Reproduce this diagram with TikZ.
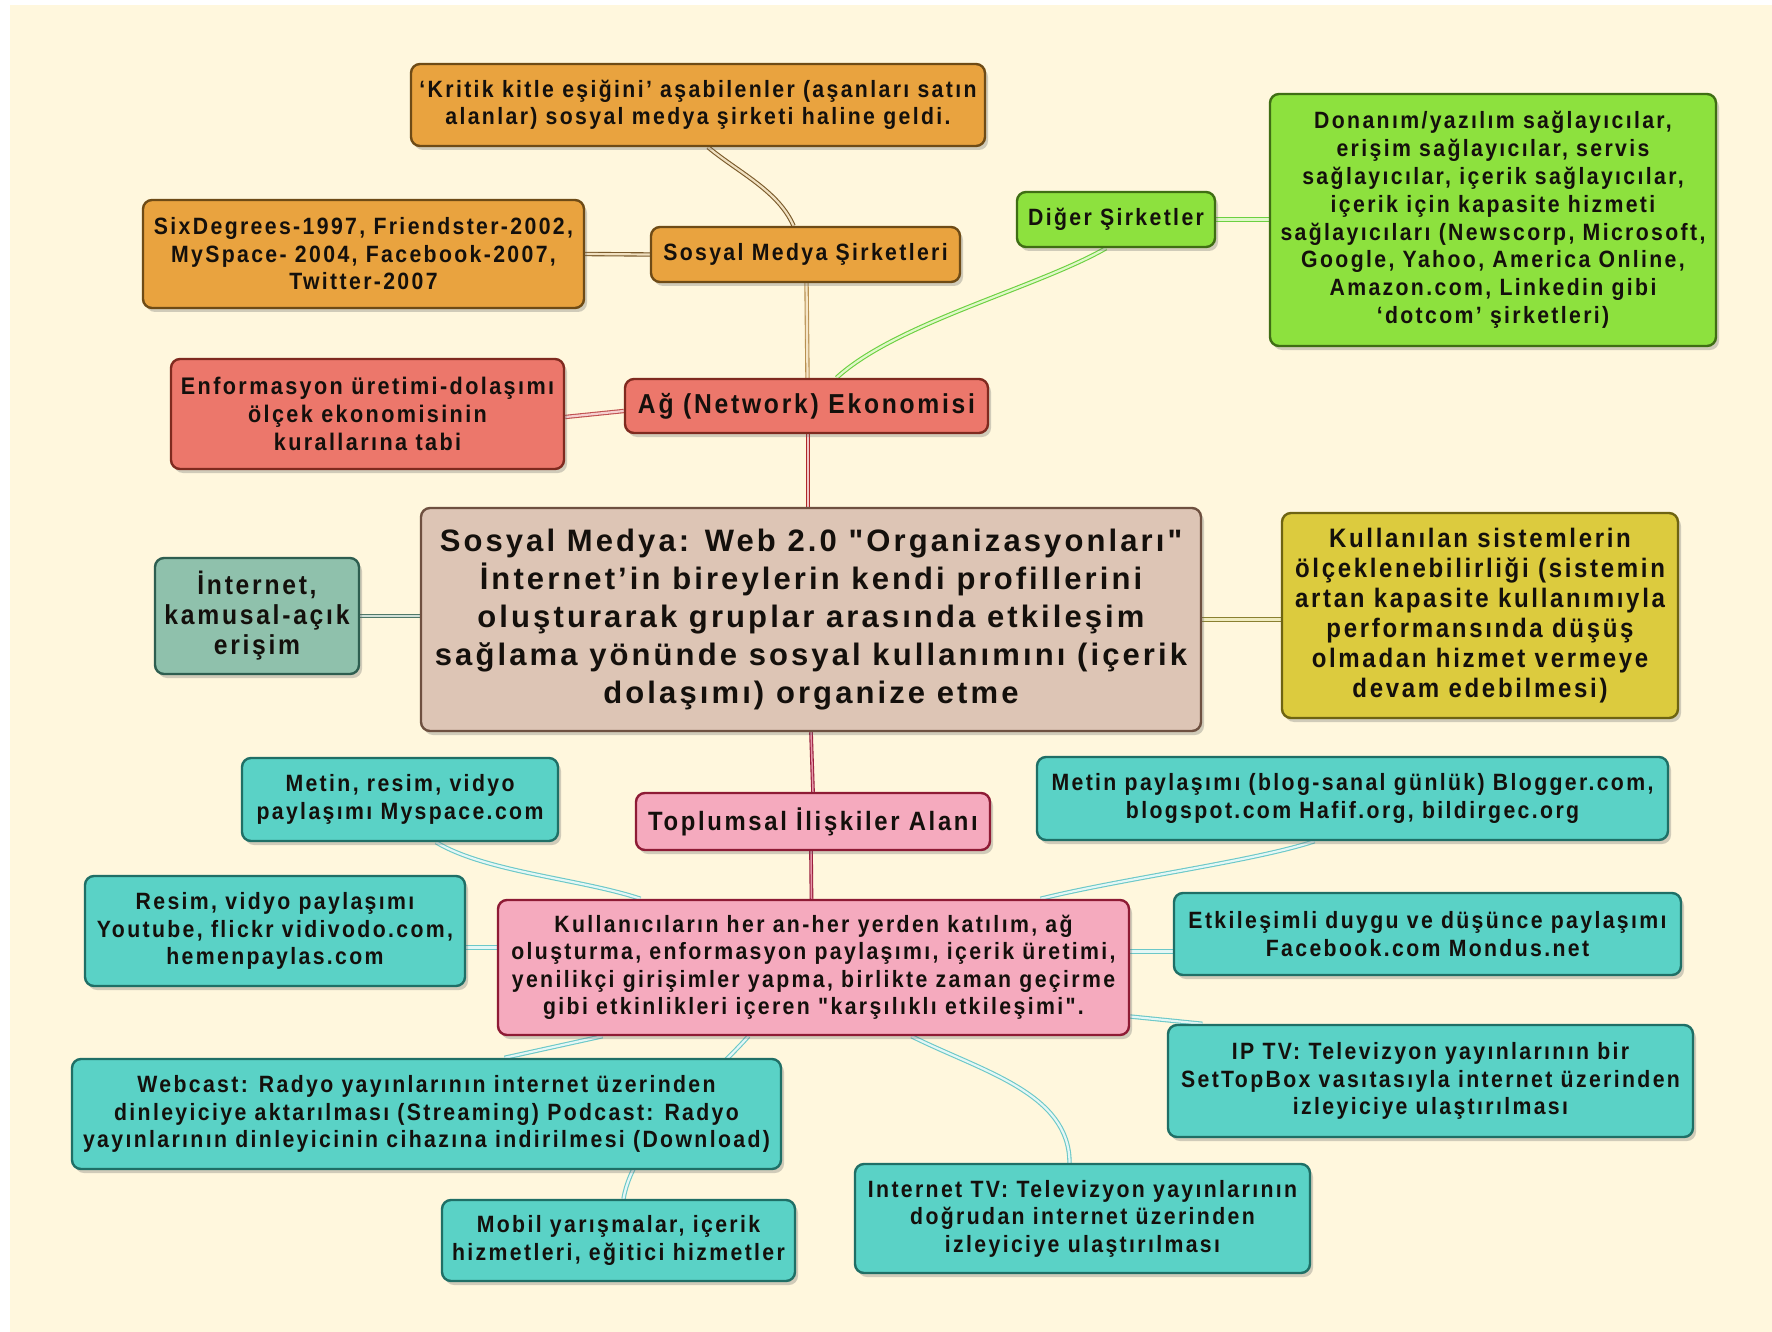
\documentclass[tikz,border=0pt]{standalone}
\usepackage{fontspec}
\newfontfamily\mf{Liberation Sans}[FakeStretch=0.9, LetterSpace=10]
\newfontfamily\mfw{Liberation Sans}[LetterSpace=10]
\usetikzlibrary{shadows,calc}
\definecolor{bg}{RGB}{255,247,221}
\definecolor{txt}{RGB}{20,16,12}
\definecolor{orF}{RGB}{233,163,63}\definecolor{orD}{RGB}{110,75,22}
\definecolor{rdF}{RGB}{236,119,107}\definecolor{rdD}{RGB}{127,42,31}
\definecolor{grF}{RGB}{141,225,62}\definecolor{grD}{RGB}{63,110,20}
\definecolor{ceF}{RGB}{221,197,181}\definecolor{ceD}{RGB}{110,80,64}
\definecolor{inF}{RGB}{143,193,172}\definecolor{inD}{RGB}{46,94,80}
\definecolor{yeF}{RGB}{220,203,62}\definecolor{yeD}{RGB}{110,100,18}
\definecolor{pkF}{RGB}{245,170,190}\definecolor{pkD}{RGB}{142,27,53}
\definecolor{tlF}{RGB}{90,210,198}\definecolor{tlD}{RGB}{31,111,102}
\pgfdeclarelayer{back}\pgfdeclarelayer{conns}
\pgfsetlayers{back,conns,main}
\tikzset{
  box/.style={rectangle, rounded corners=9pt, line width=2.4pt, align=center, inner sep=0pt,
    font=\mf\bfseries\fontsize{23.6}{27.5}\selectfont, text=txt,
    drop shadow={shadow xshift=3pt, shadow yshift=-4pt, opacity=0.3, fill=black!60}},
  orbox/.style={box, fill=orF, draw=orD},
  rdbox/.style={box, fill=rdF, draw=rdD},
  grbox/.style={box, fill=grF, draw=grD},
  cebox/.style={box, fill=ceF, draw=ceD, font=\mfw\bfseries\fontsize{31}{38}\selectfont},
  inbox/.style={box, fill=inF, draw=inD},
  yebox/.style={box, fill=yeF, draw=yeD},
  pkbox/.style={box, fill=pkF, draw=pkD},
  tlbox/.style={box, fill=tlF, draw=tlD},
  conn/.style={line width=1.1pt, double distance=2.2pt},
  cbrown/.style={conn, draw={rgb,255:red,122;green,90;blue,42}, double={rgb,255:red,240;green,224;blue,192}},
  ctan/.style={conn, draw={rgb,255:red,184;green,144;blue,80}, double={rgb,255:red,245;green,230;blue,200}},
  cred/.style={conn, draw={rgb,255:red,192;green,80;blue,80}, double={rgb,255:red,245;green,208;blue,208}},
  cred2/.style={conn, draw={rgb,255:red,176;green,40;blue,40}, double={rgb,255:red,240;green,200;blue,200}, double distance=1.5pt},
  cgreen/.style={conn, draw={rgb,255:red,108;green,208;blue,64}, double={rgb,255:red,224;green,248;blue,200}},
  cint/.style={conn, draw={rgb,255:red,80;green,120;blue,104}, double={rgb,255:red,208;green,224;blue,216}},
  cyel/.style={conn, draw={rgb,255:red,138;green,128;blue,48}, double={rgb,255:red,240;green,236;blue,192}},
  cdred/.style={conn, draw={rgb,255:red,154;green,31;blue,61}, double={rgb,255:red,230;green,150;blue,170}, double distance=1.5pt},
  cteal/.style={conn, draw={rgb,255:red,108;green,200;blue,200}, double={rgb,255:red,228;green,247;blue,245}},
}
\begin{document}
\begin{tikzpicture}[x=1pt,y=-1pt]
\useasboundingbox (0,0) rectangle (1772,1332);
\begin{pgfonlayer}{back}
\fill[white] (0,0) rectangle (1772,1332);
\fill[bg] (10,5) rectangle (1772,1332);
\end{pgfonlayer}

% upper part
\node[orbox, minimum width=574pt, minimum height=82pt] (kritik) at (698,105)
  {‘Kritik kitle eşiğini’ aşabilenler (aşanları satın\\alanlar) sosyal medya şirketi haline geldi.};
\node[orbox, minimum width=441pt, minimum height=108pt] (six) at (363.5,254)
  {SixDegrees-1997, Friendster-2002,\\MySpace- 2004, Facebook-2007,\\Twitter-2007};
\node[orbox, minimum width=309pt, minimum height=55pt] (sms) at (805.5,254.5)
  {Sosyal Medya Şirketleri};
\node[rdbox, minimum width=393pt, minimum height=110pt, font=\mf\bfseries\fontsize{24}{28}\selectfont] (enf) at (367.5,414)
  {Enformasyon üretimi-dolaşımı\\ölçek ekonomisinin\\kurallarına tabi};
\node[rdbox, minimum width=363pt, minimum height=54pt, font=\mf\bfseries\fontsize{27.4}{30}\selectfont] (ag) at (806.5,406)
  {Ağ (Network) Ekonomisi};
\node[grbox, minimum width=198pt, minimum height=55pt] (diger) at (1116,219.5)
  {Diğer Şirketler};
\node[grbox, minimum width=446pt, minimum height=252pt, font=\mf\bfseries\fontsize{23.6}{27.8}\selectfont] (green) at (1493,220)
  {Donanım/yazılım sağlayıcılar,\\erişim sağlayıcılar, servis\\sağlayıcılar, içerik sağlayıcılar,\\içerik için kapasite hizmeti\\sağlayıcıları (Newscorp, Microsoft,\\Google, Yahoo, America Online,\\Amazon.com, Linkedin gibi\\‘dotcom’ şirketleri)};

% middle
\node[inbox, minimum width=204pt, minimum height=116pt, font=\mf\bfseries\fontsize{27.4}{30}\selectfont] (internet) at (257,616)
  {İnternet,\\kamusal-açık\\erişim};
\node[cebox, minimum width=780pt, minimum height=223pt] (central) at (811,619.5)
  {Sosyal Medya: Web 2.0 "Organizasyonları"\\İnternet’in bireylerin kendi profillerini\\oluşturarak gruplar arasında etkileşim\\sağlama yönünde sosyal kullanımını (içerik\\dolaşımı) organize etme};
\node[yebox, minimum width=396pt, minimum height=205pt, font=\mf\bfseries\fontsize{26.7}{30}\selectfont] (yellow) at (1480,615.5)
  {Kullanılan sistemlerin\\ölçeklenebilirliği (sistemin\\artan kapasite kullanımıyla\\performansında düşüş\\olmadan hizmet vermeye\\devam edebilmesi)};

% lower part
\node[pkbox, minimum width=354pt, minimum height=57pt, font=\mf\bfseries\fontsize{26.5}{30}\selectfont] (topl) at (813,821.5)
  {Toplumsal İlişkiler Alanı};
\node[pkbox, minimum width=631pt, minimum height=135pt] (kull) at (813.5,967.5)
  {Kullanıcıların her an-her yerden katılım, ağ\\oluşturma, enformasyon paylaşımı, içerik üretimi,\\yenilikçi girişimler yapma, birlikte zaman geçirme\\gibi etkinlikleri içeren "karşılıklı etkileşimi".};
\node[tlbox, minimum width=316pt, minimum height=83pt] (metin) at (400,799.5)
  {Metin, resim, vidyo\\paylaşımı Myspace.com};
\node[tlbox, minimum width=380pt, minimum height=110pt] (resim) at (275,931)
  {Resim, vidyo paylaşımı\\Youtube, flickr vidivodo.com,\\hemenpaylas.com};
\node[tlbox, minimum width=709pt, minimum height=110pt] (webcast) at (426.5,1114)
  {Webcast: Radyo yayınlarının internet üzerinden\\dinleyiciye aktarılması (Streaming) Podcast: Radyo\\yayınlarının dinleyicinin cihazına indirilmesi (Download)};
\node[tlbox, minimum width=353pt, minimum height=81pt] (mobil) at (618.5,1240.5)
  {Mobil yarışmalar, içerik\\hizmetleri, eğitici hizmetler};
\node[tlbox, minimum width=631pt, minimum height=83pt] (blog) at (1352.5,798.5)
  {Metin paylaşımı (blog-sanal günlük) Blogger.com,\\blogspot.com Hafif.org, bildirgec.org};
\node[tlbox, minimum width=507pt, minimum height=82pt] (etk) at (1427.5,934)
  {Etkileşimli duygu ve düşünce paylaşımı\\Facebook.com Mondus.net};
\node[tlbox, minimum width=525pt, minimum height=112pt] (iptv) at (1430.5,1081)
  {IP TV: Televizyon yayınlarının bir\\SetTopBox vasıtasıyla internet üzerinden\\izleyiciye ulaştırılması};
\node[tlbox, minimum width=455pt, minimum height=109pt] (itv) at (1082.5,1218.5)
  {Internet TV: Televizyon yayınlarının\\doğrudan internet üzerinden\\izleyiciye ulaştırılması};

\begin{pgfonlayer}{conns}
\draw[cbrown] ([xshift=10pt]kritik.south) .. controls +(30,25) and +(-15,-35) .. ([xshift=-12pt]sms.north);
\draw[cbrown] (six.east) -- (sms.west);
\draw[ctan] ([xshift=1pt]sms.south) -- ([xshift=1pt]ag.north);
\draw[cred] ([yshift=-3pt]enf.east) -- ([yshift=-5pt]ag.west);
\draw[cgreen] ([xshift=30pt]ag.north) .. controls +(60,-55) and +(-70,40) .. ([xshift=-10pt]diger.south);
\draw[cgreen] (diger.east) -- (diger.east -| green.west);
\draw[cred2] ([xshift=1.5pt]ag.south) -- ([xshift=-3pt]central.north);
\draw[cint] (internet.east) -- (internet.east -| central.west);
\draw[cyel] (central.east) -- (central.east -| yellow.west);
\draw[cdred] (central.south) -- (topl.north);
\draw[cdred] ([xshift=-2pt]topl.south) -- ([xshift=-2pt]kull.north);
\draw[cteal] ([xshift=-173pt]kull.north) .. controls +(-60,-20) and +(50,30) .. ([xshift=36pt]metin.south);
\draw[cteal] ([yshift=20pt]kull.west) -- ([yshift=20pt]kull.west -| resim.east);
\draw[cteal] ([xshift=-211pt]kull.south) -- ([xshift=78pt]webcast.north);
\draw[cteal] ([xshift=-65pt]kull.south) .. controls +(-40,45) and +(10,-60) .. ([xshift=5pt]mobil.north);
\draw[cteal] ([xshift=227pt]kull.north) .. controls +(80,-20) and +(-60,20) .. ([xshift=-38pt]blog.south);
\draw[cteal] ([yshift=16pt]kull.east) -- ([yshift=16pt]kull.east -| etk.west);
\draw[cteal] ([yshift=-49pt]kull.east) -- ([xshift=-228pt]iptv.north);
\draw[cteal] ([xshift=98pt]kull.south) .. controls +(70,35) and +(0,-70) .. ([xshift=-13pt]itv.north);
\end{pgfonlayer}
\end{tikzpicture}
\end{document}
